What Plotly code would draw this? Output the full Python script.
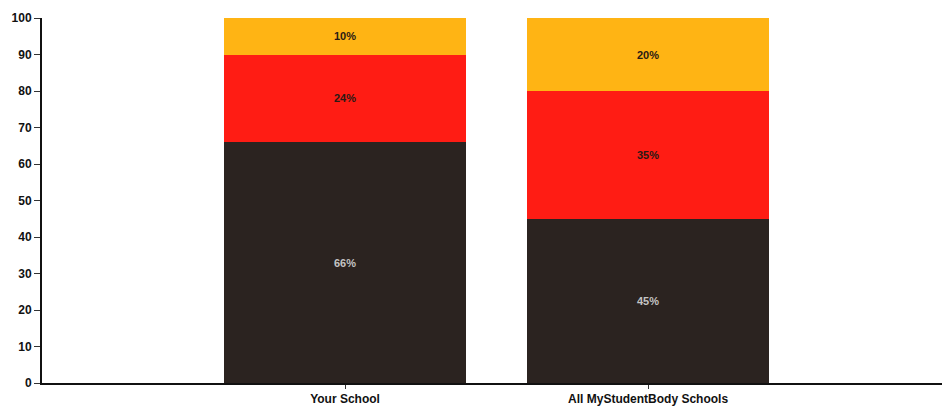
import plotly.graph_objects as go

categories = ["Your School", "All MyStudentBody Schools"]
low_values = [66, 45]
mid_values = [24, 35]
high_values = [10, 20]
y_ticks = [0, 10, 20, 30, 40, 50, 60, 70, 80, 90, 100]

FONT = "Liberation Sans, Arial, sans-serif"

series = [
    (low_values, "#2b2320", "#c4c4c4"),
    (mid_values, "#ff1c14", "#2a1a14"),
    (high_values, "#ffb414", "#2a1a14"),
]

fig = go.Figure()
for vals, color, txtcolor in series:
    fig.add_trace(go.Bar(
        x=categories,
        y=vals,
        marker=dict(color=color, line=dict(width=0)),
        text=[f"{v}%" for v in vals],
        textposition="inside",
        insidetextanchor="middle",
        textangle=0,
        textfont=dict(family=FONT, size=11, color=txtcolor, weight="bold"),
        width=0.8,
        showlegend=False,
    ))

fig.update_layout(
    barmode="stack",
    width=942,
    height=420,
    margin=dict(l=42, r=0, t=18, b=37),
    paper_bgcolor="white",
    plot_bgcolor="white",
    font=dict(family=FONT, color="#111111"),
    uniformtext=dict(minsize=10, mode="show"),
)
fig.update_xaxes(
    type="category",
    range=[-1.0, 1.97],
    showline=True,
    linecolor="#111111",
    linewidth=2,
    ticks="outside",
    ticklen=4,
    tickcolor="#333333",
    tickfont=dict(size=12, family=FONT, color="#111111", weight="bold"),
    showgrid=False,
    zeroline=False,
)
fig.update_yaxes(
    range=[0, 100],
    tickvals=y_ticks,
    showline=True,
    linecolor="#111111",
    linewidth=2,
    ticks="outside",
    ticklen=6,
    tickcolor="#333333",
    tickfont=dict(size=12, family=FONT, color="#111111", weight="bold"),
    showgrid=False,
    zeroline=False,
)

fig.write_html("out.html")
